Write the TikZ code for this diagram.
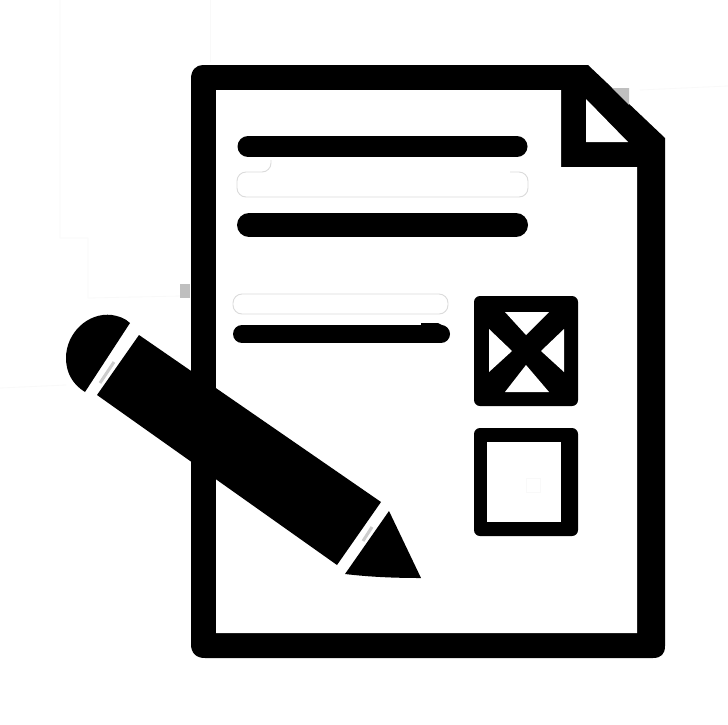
\documentclass[tikz,border=0pt]{standalone}
\definecolor{faint}{gray}{0.86}
\definecolor{ghost}{gray}{0.975}
\definecolor{speck}{gray}{0.75}
\definecolor{gapgray}{gray}{0.8}
\tikzset{
  ink/.style={fill=black,draw=none},
  paper/.style={fill=white,draw=none},
  pill/.style={line cap=round,black},
  ghostpill/.style={draw=faint,line width=0.9pt,rounded corners=9pt},
  seam/.style={draw=ghost,line width=0.8pt},
  gap/.style={draw=gapgray,line width=3pt}
}
\begin{document}
\begin{tikzpicture}[x=1pt,y=-1pt]
\useasboundingbox[fill=white] (0,0) rectangle (728,724);
% faint background seams
\draw[seam] (60,0) -- (60,238) -- (88,238) -- (88,298) -- (182,296);
\draw[seam] (0,388) -- (66,385);
\draw[seam] (210,0) -- (210,62);
\draw[seam] (640,90) -- (728,86);
\draw[seam] (418,540) -- (480,536);
\draw[seam] (420,575) -- (420,600) -- (450,600) -- (450,632);
\draw[seam] (300,240) -- (300,292);
% sheet
\path[ink] (203,65) -- (588,65) -- (665,138) -- (665,646)
  .. controls (665,654) and (661,658) .. (653,658) -- (205,658)
  .. controls (196,658) and (191,653) .. (191,644) -- (191,79)
  .. controls (191,70) and (196,65) .. (203,65) -- cycle;
\path[paper] (216,90) -- (561,90) -- (561,167) -- (637,167) -- (637,633) -- (216,633) -- cycle;
\path[paper] (586,99) -- (628,142) -- (586,142) -- cycle;
\path[fill=speck] (612,88) -- (629,88) -- (629,105) -- cycle;
\path[fill=speck] (180,284) rectangle (190,298);
% text lines
\draw[ghostpill] (271,160) -- (271,172) -- (237,172) -- (237,197) -- (528,197) -- (528,172) -- (510,172);
\draw[ghostpill,fill=white] (233,294) rectangle (448,314);
\draw[pill,line width=21pt] (248,146.5) -- (517,146.5);
\draw[pill,line width=24pt] (249,225) -- (516,225);
\draw[pill,line width=18pt] (242,334) -- (441,334);
\path[ink] (421,323) -- (438,323) -- (446,327) -- (421,330) -- cycle;
% checked box
\path[ink,rounded corners=6pt] (474,296) rectangle (578,406);
\path[paper] (505,312) -- (549,312) -- (526,335) -- cycle;
\path[paper] (505,392) -- (549,392) -- (526,365) -- cycle;
\path[paper] (489,329) -- (512,351) -- (489,372) -- cycle;
\path[paper] (564,329) -- (541,351) -- (564,372) -- cycle;
% empty box
\path[ink,rounded corners=6pt] (474,428) rectangle (578,536);
\path[paper] (487,442) rectangle (561,522);
\draw[draw=ghost,line width=0.8pt] (526,478) rectangle (540,492);
% pencil
\path[ink] (139,335) -- (381,502) -- (337,565) -- (97,395) -- cycle;
\path[ink] (130,323) -- (85,392) .. controls (72,384) and (66,372) .. (66,358)
  .. controls (66,333) and (88,312) .. (112,315) .. controls (118,316) and (125,318) .. (130,323) -- cycle;
\path[ink] (389,511) -- (421,578) .. controls (395,578) and (370,577) .. (345,574) -- cycle;
\draw[gap] (114,362) -- (100,383);
\draw[gap] (372,527) -- (363,541);
\end{tikzpicture}
\end{document}
